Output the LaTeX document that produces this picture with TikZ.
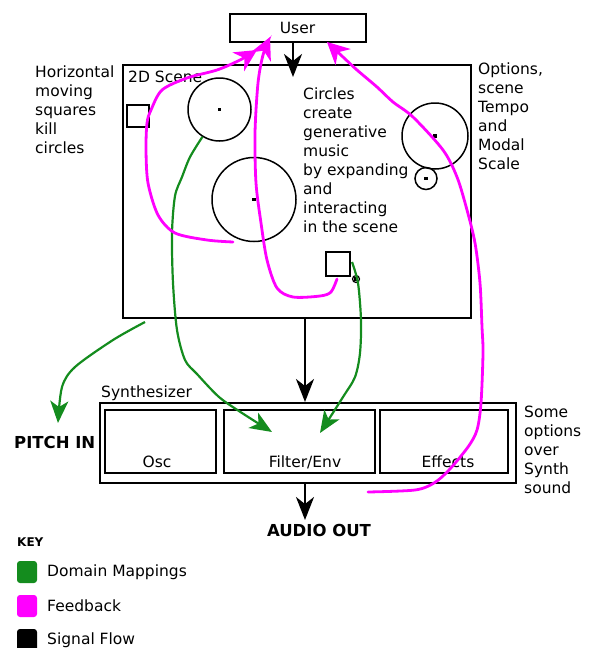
\documentclass[tikz,border=0pt]{standalone}
\usepackage{fontspec}
\setmainfont{DejaVu Sans}
\usetikzlibrary{arrows.meta}
\definecolor{mapgreen}{RGB}{20,140,30}
\definecolor{feedpink}{RGB}{255,0,255}
\tikzset{
  box/.style={draw, line width=2pt, inner sep=0pt},
  bubble/.style={draw, circle, line width=1.5pt, inner sep=0pt},
  txt/.style={inner sep=0pt, align=left, font=\fontsize{15.5}{19}\selectfont},
  bold/.style={inner sep=0pt, font=\bfseries\fontsize{16.5}{19}\selectfont},
  flow/.style={line width=2.2pt, -{Stealth[length=23pt,width=18pt,inset=7pt]}},
  mapping/.style={mapgreen, line width=2.2pt, -{Stealth[length=22pt,width=18pt,inset=6pt]}},
  feedback/.style={feedpink, line width=2.8pt, line cap=round, -{Stealth[length=22pt,width=22pt,inset=7pt]}},
  swatch/.style={rounded corners=3pt, inner sep=0pt, minimum width=20pt, minimum height=22pt}
}
\begin{document}
\begin{tikzpicture}[x=1pt, y=-1pt]
\useasboundingbox (0,0) rectangle (589,648);

% boxes
\node [box, txt, minimum width=136, minimum height=28] (user) at (297.5,28) {User};
\node [box, minimum width=348, minimum height=253] (scene) at (297,191.5) {};
\node [box, minimum width=416, minimum height=80] (synth) at (308,443) {};
\node [box, minimum width=111, minimum height=63] (osc) at (160.5,441.5) {};
\node [box, minimum width=151, minimum height=63] (filt) at (299.5,441.5) {};
\node [box, minimum width=128, minimum height=63] (fx) at (444,441.5) {};

\node [txt, anchor=base] at (157,467) {Osc};
\node [txt, anchor=base] at (305,467) {Filter/Env};
\node [txt, anchor=base] at (448,467) {Effects};
\node [txt, anchor=north west] at (101,386) {Synthesizer};
\node [txt, anchor=north west] at (128,71) {2D Scene};

% scene contents
\node [bubble, minimum size=63] (c1) at (219.5,109.5) {};
\node [bubble, minimum size=84] (c2) at (254,199.5) {};
\node [bubble, minimum size=66] (c3) at (435,136) {};
\node [bubble, minimum size=22] (c4) at (426,178.5) {};
\node [bubble, minimum size=7, line width=1.2pt] (c5) at (356,279) {};
\foreach \c in {c1,c2,c3,c4,c5}
  \fill ([shift={(-1.6,-1.6)}]\c) rectangle ++(3.2,3.2);
\node [box, minimum size=22] (sq1) at (138,116) {};
\node [box, minimum size=24] (sq2) at (338,264) {};

% side notes
\node [txt, anchor=north west] at (35,66) {Horizontal\\moving\\squares\\kill\\circles};
\node [txt, anchor=north west] at (303,88) {Circles\\create\\generative\\music\\by expanding\\and\\interacting\\in the scene};
\node [txt, anchor=north west] at (478,63) {Options,\\scene\\Tempo\\and\\Modal\\Scale};
\node [txt, anchor=north west] at (524,406) {Some\\options\\over\\Synth\\sound};
\node [bold, anchor=base west] (pitch) at (14,448) {PITCH IN};
\node [bold, anchor=base] (audio) at (319,536) {AUDIO OUT};

% signal flow
\coordinate (u) at (293,0);
\coordinate (s) at (305,0);
\draw [flow] (user.south -| u) -- (293,77);
\draw [flow] (scene.south -| s) -- (synth.north -| s);
\draw [flow] (synth.south -| s) -- (305,520);

% domain mappings
\coordinate (m1) at (145,322);
\coordinate (m3) at (352,262);
\draw [mapping] plot [smooth] coordinates {(m1) (113,340) (75,367) (62,387) (58,423)};
\draw [mapping] plot [smooth] coordinates {(c1.238) (190,157) (182,177) (175,196) (172,233) (173,283) (177,330) (185,360) (197,374) (219,397) (242,413) (272,432)};
\draw [mapping] plot [smooth] coordinates {(m3) (358,283) (361,320) (360,353) (355,377) (343,397) (320,433)};

% feedback
\coordinate (f1) at (233,242);
\coordinate (f2) at (337,279);
\coordinate (f3) at (368,492);
\draw [feedback] plot [smooth] coordinates {(f1) (207,240) (175,233) (158,215) (148,183) (146,150) (147,123) (151,110) (162,90) (187,78) (217,70) (240,60) (257,50)};
\draw [feedback] plot [smooth] coordinates {(f2) (331,292) (320,296) (293,297) (277,288) (267,260) (261,223) (256,183) (255,133) (258,83) (263,55) (270,37)};
\draw [feedback] plot [smooth] coordinates {(f3) (415,490) (434,483) (449,470) (468,447) (477,430) (481,403) (483,353) (482,327) (480,283) (475,243) (467,210) (457,177) (443,150) (413,117) (393,102) (377,87) (357,70) (343,57) (327,42)};

% key
\node [bold, font=\bfseries\fontsize{12}{14}\selectfont, anchor=base west] (key) at (17,546) {KEY};
\node [swatch, fill=mapgreen] (kmap) at (27,572) {};
\node [swatch, fill=feedpink] (kfb) at (27,606) {};
\node [swatch, fill=black] (kflow) at (27,640) {};
\node [txt, anchor=base west] at (47,576) {Domain Mappings};
\node [txt, anchor=base west] at (47,611) {Feedback};
\node [txt, anchor=base west] at (47,644) {Signal Flow};
\end{tikzpicture}
\end{document}
